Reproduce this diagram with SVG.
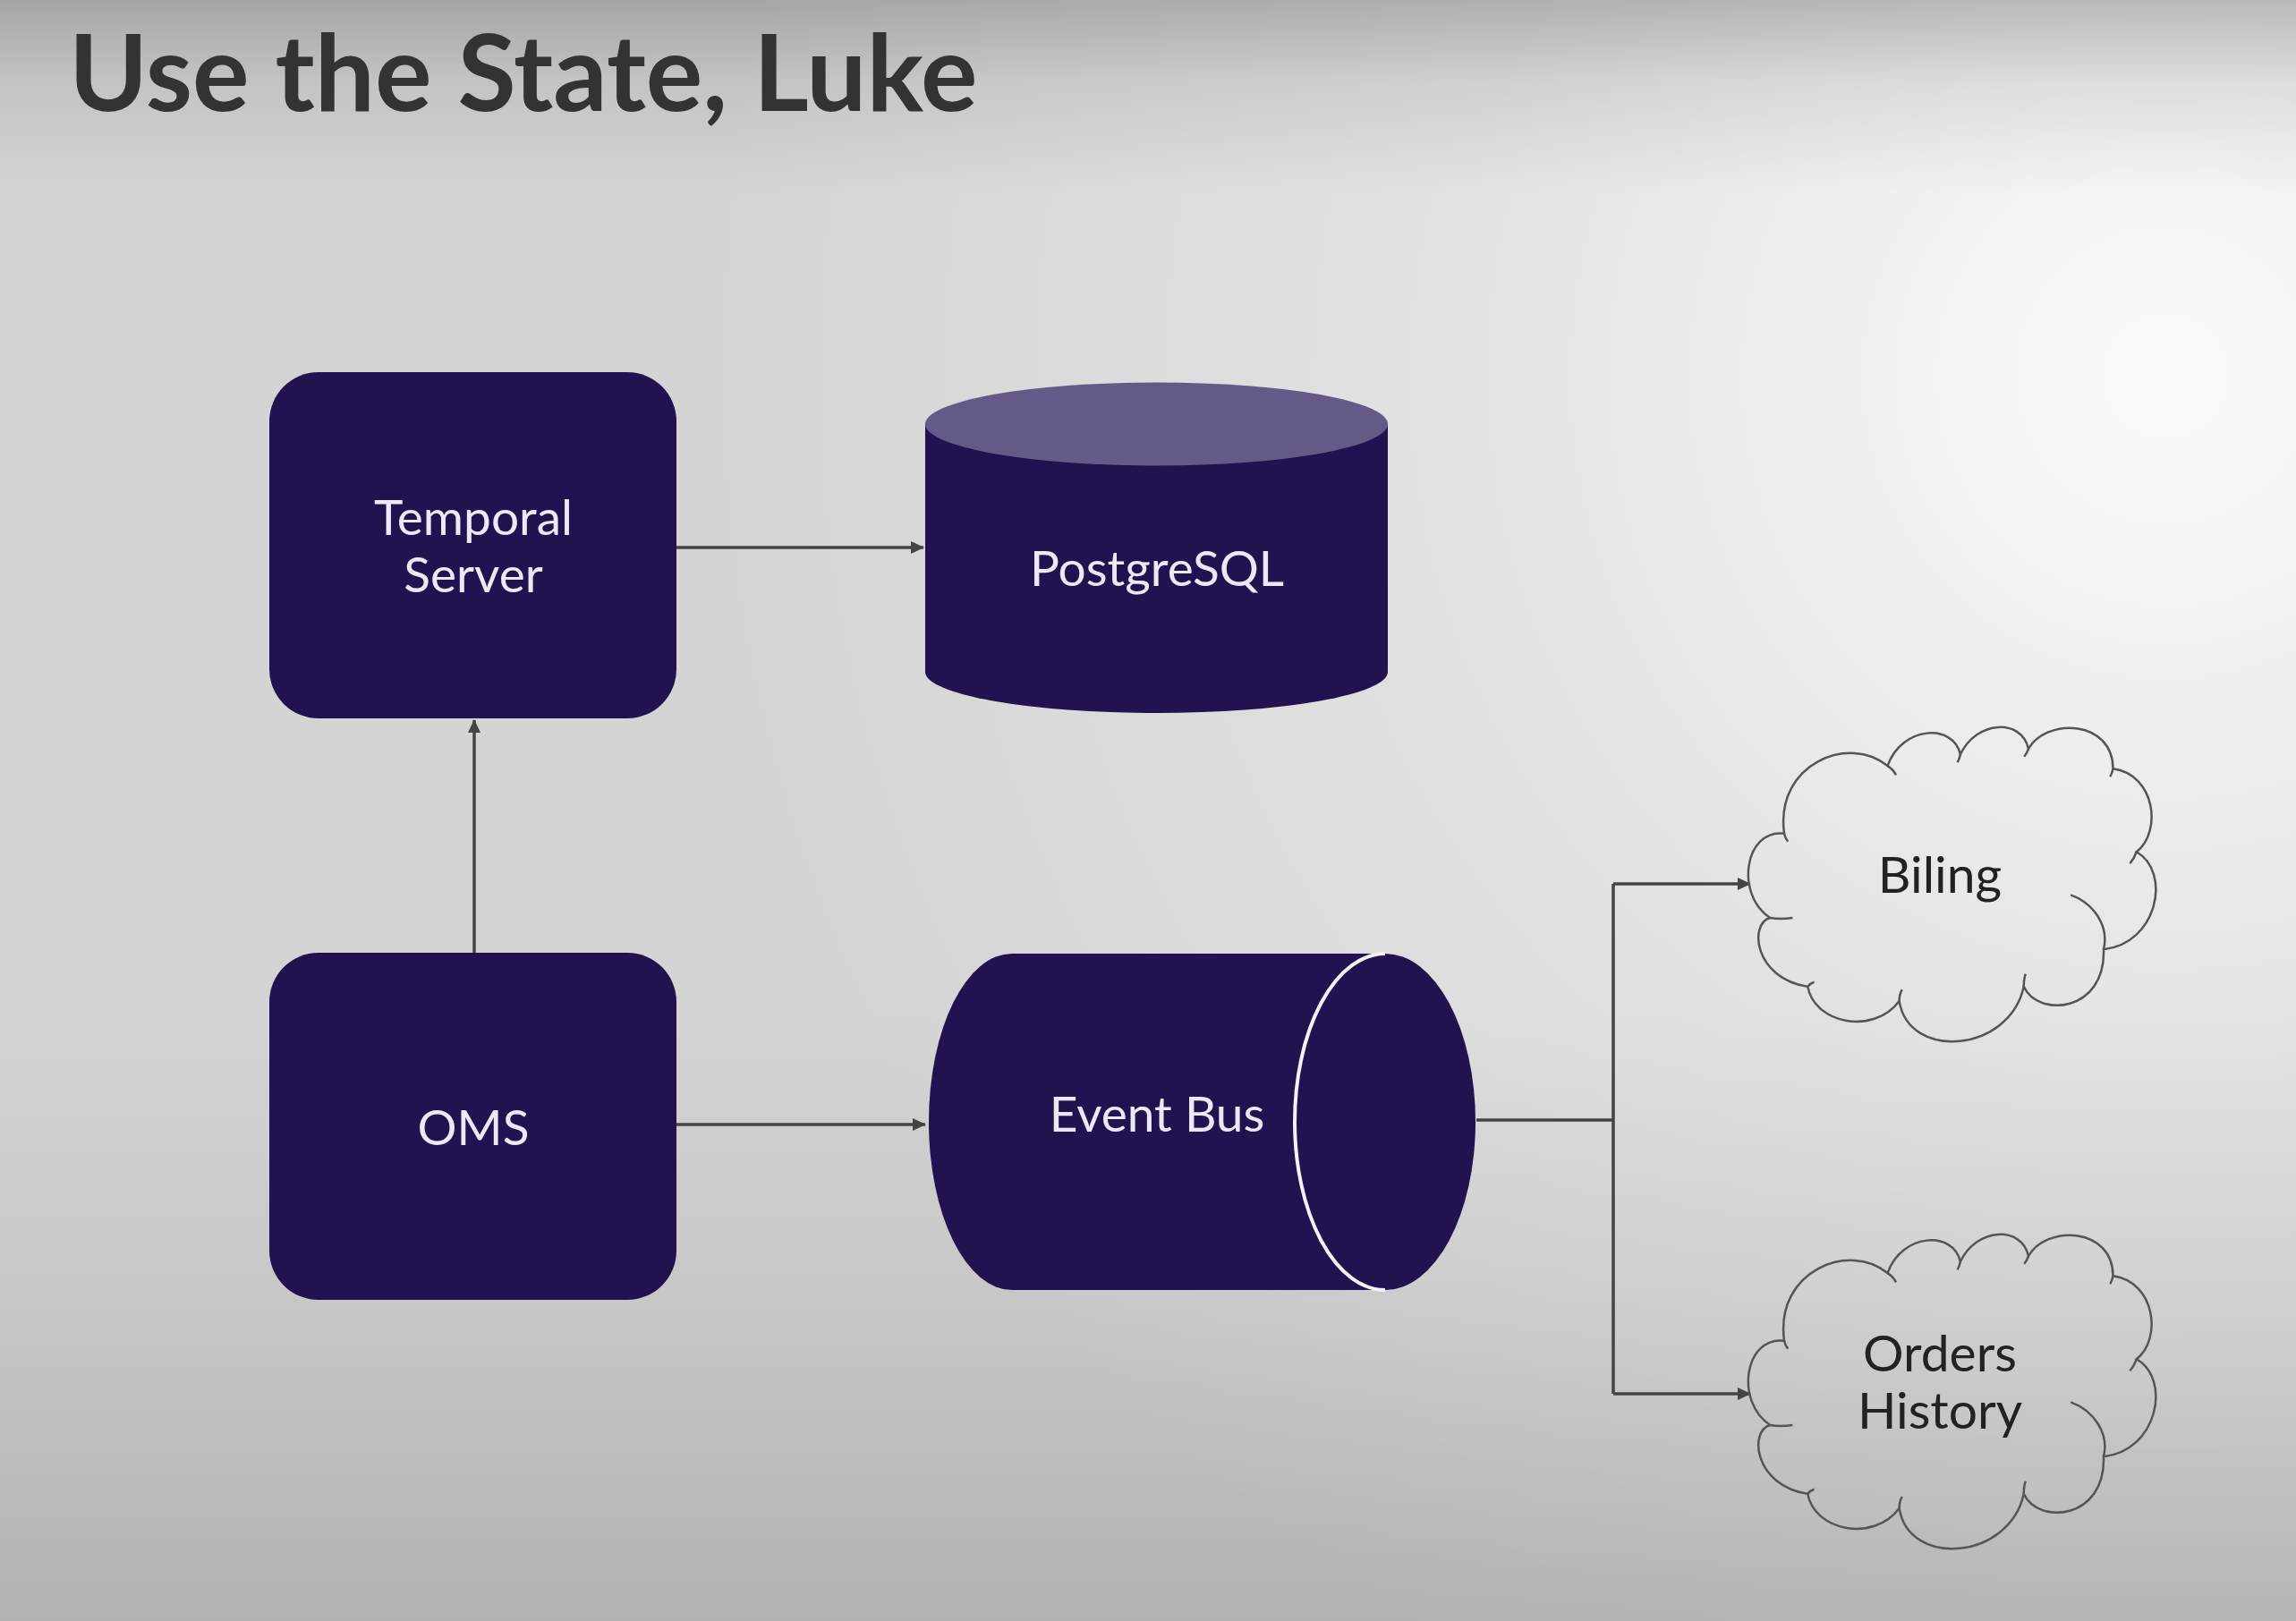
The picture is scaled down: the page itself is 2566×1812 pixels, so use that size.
<svg xmlns="http://www.w3.org/2000/svg" width="2566" height="1812" viewBox="0 0 2566 1812">
<style>
.box{fill:#22124f}
.lbl{font-family:Lato,"Open Sans","Liberation Sans",sans-serif;font-size:55px;fill:#ece8f4;text-anchor:middle}
.clbl{font-family:Lato,"Open Sans","Liberation Sans",sans-serif;font-size:57px;fill:#222;text-anchor:middle}
.con{stroke:#444;stroke-width:3.5;fill:none}
.cloud{fill:none;stroke:#555;stroke-width:2.5;vector-effect:non-scaling-stroke}
</style>
<defs>
<linearGradient id="vg" x1="0" y1="0" x2="0" y2="1">
<stop offset="0" stop-color="#000" stop-opacity="0.22"/>
<stop offset="0.05" stop-color="#000" stop-opacity="0.08"/>
<stop offset="0.12" stop-color="#000" stop-opacity="0"/>
<stop offset="0.62" stop-color="#000" stop-opacity="0"/>
<stop offset="0.8" stop-color="#000" stop-opacity="0.06"/>
<stop offset="1" stop-color="#000" stop-opacity="0.16"/>
</linearGradient>
<radialGradient id="rg" cx="2420" cy="420" r="1650" gradientUnits="userSpaceOnUse">
<stop offset="0" stop-color="#fff" stop-opacity="0.9"/>
<stop offset="0.5" stop-color="#fff" stop-opacity="0.32"/>
<stop offset="1" stop-color="#fff" stop-opacity="0"/>
</radialGradient>
<marker id="ah" markerUnits="userSpaceOnUse" markerWidth="16" markerHeight="14" refX="14" refY="7" orient="auto">
<path d="M0,0 L15,7 L0,14 z" fill="#444"/>
</marker>
<g id="cloudShape">
<path class="cloud" d="M80,193 C60,70 220,20 300,75 C330,5 440,0 455,55 C490,-5 585,-8 600,45 C640,-10 780,-5 780,80 C870,90 885,190 830,225 C905,260 875,385 760,395 C765,505 620,515 590,460 C560,575 345,590 325,485 C270,545 145,525 130,460 C15,445 5,350 50,340 C-25,300 -5,185 80,193 Z"/>
<path class="cloud" d="M80,193 q2,8 8,14 M300,75 q12,6 18,16 M455,55 q-2,8 -6,14 M600,45 q-3,8 -9,14 M780,80 q-2,8 -6,14 M830,225 q-5,12 -14,20 M690,300 C740,315 772,355 760,395 M590,460 q0,-14 4,-22 M325,485 q0,-12 6,-20 M130,460 q6,-6 14,-8 M50,340 q22,3 48,0"/>
</g>
</defs>
<rect width="2566" height="1812" fill="#d4d4d4"/>
<rect width="2566" height="1812" fill="url(#rg)"/>
<rect width="2566" height="1812" fill="url(#vg)"/>
<text x="77" y="124" font-family="Lato,'Open Sans','Liberation Sans',sans-serif" font-size="119" font-weight="700" fill="#333">Use the State, Luke</text>
<g id="connectors">
<line class="con" x1="756" y1="612" x2="1032" y2="612" marker-end="url(#ah)"/>
<line class="con" x1="530" y1="1065" x2="530" y2="805" marker-end="url(#ah)"/>
<line class="con" x1="756" y1="1257" x2="1034" y2="1257" marker-end="url(#ah)"/>
<path class="con" d="M1650,1252 H1803 M1803,988 V1558"/>
<path class="con" d="M1803,988 H1956" marker-end="url(#ah)"/>
<path class="con" d="M1803,1558 H1956" marker-end="url(#ah)"/>
</g>
<g id="temporal">
<rect class="box" x="301" y="416" width="455" height="387" rx="55"/>
<text class="lbl" x="529" y="598">Temporal</text>
<text class="lbl" x="529" y="662">Server</text>
</g>
<g id="postgres">
<path class="box" d="M1034,474 L1034,751 A258.5,46 0 0 0 1551,751 L1551,474 Z"/>
<ellipse cx="1292.5" cy="474" rx="258.5" ry="46.5" fill="#655a87"/>
<text class="lbl" x="1293" y="655">PostgreSQL</text>
</g>
<g id="oms">
<rect class="box" x="301" y="1065" width="455" height="388" rx="55"/>
<text class="lbl" x="529" y="1280">OMS</text>
</g>
<g id="eventbus">
<path class="box" d="M1131,1066 L1548,1066 A101,188 0 0 1 1548,1442 L1131,1442 A93,188 0 0 1 1131,1066 Z"/>
<path d="M1548,1066 A101,188 0 0 0 1548,1442" fill="none" stroke="#f4f2f8" stroke-width="4"/>
<text class="lbl" x="1293" y="1265">Event Bus</text>
</g>
<g id="billing">
<use href="#cloudShape" transform="translate(1952,808) scale(0.525,0.641)"/>
<text class="clbl" x="2168" y="998">Biling</text>
</g>
<g id="orders">
<use href="#cloudShape" transform="translate(1952,1375) scale(0.525,0.641)"/>
<text class="clbl" x="2168" y="1533">Orders</text>
<text class="clbl" x="2168" y="1597">History</text>
</g>
</svg>
